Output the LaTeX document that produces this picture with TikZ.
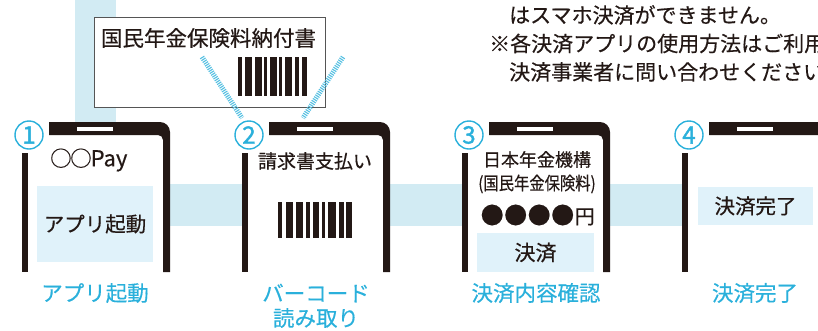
\documentclass[tikz,border=0pt]{standalone}
\usepackage{fontspec}
\setmainfont{Noto Sans CJK JP}[FakeBold=0.4]
\newfontfamily\numfont{Noto Sans CJK JP}[FakeBold=1.6]
\definecolor{cy}{HTML}{2AB0DB}
\definecolor{band}{HTML}{D2EBF3}
\definecolor{boxb}{HTML}{E0F2FA}
\definecolor{pblack}{HTML}{231815}
\definecolor{docgray}{HTML}{555555}
\newcommand\fs[1]{\fontsize{#1}{#1}\selectfont}
\tikzset{
  txt/.style={inner sep=0pt, text=pblack, font=\fs{#1}},
  lbl/.style={inner sep=0pt, text=cy, font=\fs{21.5}, align=center},
  numcirc/.style={circle, draw=cy, line width=1.4pt, fill=white, minimum size=28pt, inner sep=0pt, text=cy, font=\numfont\fs{24}},
  bluebox/.style={fill=boxb, inner sep=0pt, text=pblack},
  scanline/.style={draw=cy!80, line width=5pt, dash pattern=on 1.1pt off 1.1pt},
}
\newcommand\phoneshape[1]{%
  \begin{scope}[shift={(#1,0)}]
    \fill[white] (22,122) rectangle (170,272);
    \fill[pblack] (49,122) -- (160,122) arc[start angle=-90, end angle=0, radius=10]
      -- (170,272) -- (163,272) -- (163,140) arc[start angle=0, end angle=-90, radius=5]
      -- (49,135) -- cycle;
    \fill[white] (77,127) rectangle (113,131);
    \fill[pblack] (22,153) rectangle (28,272);
  \end{scope}}
\newcommand\barcodeshape[4]{%
  \begin{scope}[shift={(#1,#2)}, xscale=#3]
    \foreach \o/\w in {0/4,7.4/7.7,17.7/7.3,27.7/3.5,34.4/6.5,43.4/3.5,50/8,60.7/4.7,67.7/5.5}
      \fill[pblack] (\o,0) rectangle ++(\w,#4);
  \end{scope}}
\begin{document}
\begin{tikzpicture}[x=1pt, y=-1pt]
\useasboundingbox (0,0) rectangle (818,330);
\clip (0,0) rectangle (818,330);
% bands
\fill[band] (75,0) rectangle (116,226);
\fill[band] (75,184) rectangle (818,226);
% document
\node[draw=docgray, line width=1pt, fill=white, minimum width=231pt, minimum height=90pt, inner sep=0pt] (doc) at (209.5,62) {};
\node[txt=21.5] (doctext) at (208.5,38) {国民年金保険料納付書};
\barcodeshape{238.3}{57.3}{0.934}{38.5}
% scan lines
\coordinate (s1a) at (202,57);
\coordinate (s1b) at (242,118);
\coordinate (s2a) at (343,57);
\coordinate (s2b) at (303,118);
\draw[scanline] (s1a) -- (s1b);
\draw[scanline] (s2a) -- (s2b);
% phones
\phoneshape{0}
\phoneshape{220}
\phoneshape{440}
\phoneshape{660}
% numbers
\node[numcirc] (n1) at (29,135) {1};
\node[numcirc] (n2) at (249,135) {2};
\node[numcirc] (n3) at (469,135) {3};
\node[numcirc] (n4) at (689,135) {4};
% phone 1
\node[txt=22, anchor=west] (pay) at (50,160) {{\fs{21.5}○\kern-1.5pt○\kern-1pt}Pay};
\node[bluebox, minimum width=116pt, minimum height=76pt, font=\fs{20.5}] (b1) at (95,224) {アプリ起動};
% phone 2
\node[txt=19] (p2t) at (315,161) {請求書支払い};
\barcodeshape{278.3}{202}{1}{36}
% phone 3
\node[txt=18] (p3a) at (537,159.5) {日本年金機構};
\node[txt=18, xscale=0.85] (p3b) at (537,184) {(国民年金保険料)};
\node[txt=20, anchor=west] (p3c) at (480.5,215) {{\fs{23}●\kern0.5pt●\kern0.5pt●\kern0.5pt●\kern0.5pt}円};
\node[bluebox, minimum width=117pt, minimum height=39pt, font=\fs{21}] (b3) at (535.5,252.5) {決済};
% phone 4
\node[bluebox, minimum width=115pt, minimum height=38pt, font=\fs{20.5}] (b4) at (755.5,206) {決済完了};
% labels
\node[lbl] (l1) at (95,293) {アプリ起動};
\node[lbl] (l2a) at (316,293) {バーコード};
\node[lbl] (l2b) at (316,318) {読み取り};
\node[lbl] (l3) at (536,293) {決済内容確認};
\node[lbl] (l4) at (755,293) {決済完了};
% top right note
\node[txt=21, anchor=west] (t1) at (509,15) {はスマホ決済ができません。};
\node[txt=21, anchor=west] (t2) at (489,43.5) {※各決済アプリの使用方法はご利用};
\node[txt=21, anchor=west] (t3) at (509,72) {決済事業者に問い合わせください};
\end{tikzpicture}
\end{document}
